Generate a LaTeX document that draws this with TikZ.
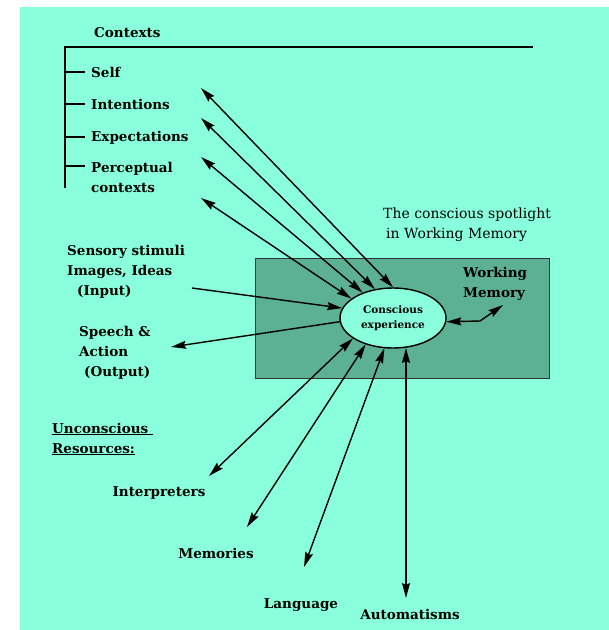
\documentclass[tikz,border=0pt]{standalone}
\usepackage{fontspec}
\setmainfont{DejaVu Serif}
\usetikzlibrary{arrows.meta,shapes.geometric}
\definecolor{bgc}{RGB}{138,255,219}
\definecolor{wmfill}{RGB}{92,176,148}
\begin{document}
\begin{tikzpicture}[x=1pt,y=-1pt,
  lbl/.style={inner sep=0pt,font=\bfseries\fontsize{13.5}{20}\selectfont,align=left},
  bline/.style={line width=2pt},
  tip/.style={Stealth[length=15pt,width=8pt,inset=2pt]},
  dbl/.style={line width=1.4pt,{Stealth[length=15pt,width=8pt,inset=2pt]}-{Stealth[length=15pt,width=8pt,inset=2pt]}},
  one/.style={line width=1.4pt,-{Stealth[length=15pt,width=8pt,inset=2pt]}}]
\useasboundingbox (0,0) rectangle (609,630);
\fill[white] (0,0) rectangle (609,630);
\fill[bgc] (20,7) rectangle (609,630);
% contexts bracket
\coordinate (bt) at (65,47);
\coordinate (br) at (533,47);
\coordinate (bb) at (65,188);
\draw[bline] (br) -- (bt) -- (bb);
\foreach \yy/\nm in {72/t1,104/t2,137/t3,166/t4}{
  \coordinate (\nm a) at (65,\yy);
  \coordinate (\nm b) at (85,\yy);
  \draw[bline] (\nm a) -- (\nm b);
}
\node[lbl,anchor=west] (contexts) at (94,33) {Contexts};
\node[lbl,anchor=west] (self) at (91,72) {Self};
\node[lbl,anchor=west] (intent) at (91,104) {Intentions};
\node[lbl,anchor=west] (expect) at (91,138) {Expectations};
\node[lbl,anchor=west] (percep) at (91,177) {Perceptual\\contexts};
% working memory box
\node[draw=black!80,line width=0.8pt,fill=wmfill,minimum width=294pt,minimum height=120pt,inner sep=0pt] (box) at (402,318) {};
\node[ellipse,draw,line width=1.4pt,fill=bgc,minimum width=106pt,minimum height=60pt,inner sep=0pt,align=center,font=\bfseries\fontsize{10.5}{15}\selectfont] (ce) at (393,318) {Conscious\\experience};
\node[lbl,anchor=west] (wm) at (463,284) {Working\\Memory};
\node[lbl,anchor=west,font=\fontsize{14}{20}\selectfont] (spot) at (383,225) {The conscious spotlight\\\hspace{3pt}in Working Memory};
\node[lbl,anchor=west] (sens) at (67,272) {Sensory stimuli\\Images, Ideas\\\hspace{10pt}(Input)};
\node[lbl,anchor=west] (speech) at (79,353) {Speech \&\\Action\\\hspace{5pt}(Output)};
\node[lbl,anchor=west] (uncon) at (52,439) {\underline{Unconscious\ }\\\underline{Resources:}};
\node[lbl] (interp) at (159,493) {Interpreters};
\node[lbl] (mem) at (216,553) {Memories};
\node[lbl] (lang) at (301,605) {Language};
\node[lbl] (autom) at (410,614) {Automatisms};
% free ends
\coordinate (c1) at (201,88);
\coordinate (c2) at (201,118);
\coordinate (c3) at (201,157);
\coordinate (c4) at (201,198);
\coordinate (inp) at (192,288);
\coordinate (outp) at (171,347);
\coordinate (u1) at (209,476);
\coordinate (u2) at (247,527);
\coordinate (u3) at (304,567);
\coordinate (u4) at (406,598);
\coordinate (u4t) at (406,348);
\coordinate (wmk) at (480,321);
\coordinate (wmh) at (503,305);
% arrows
\draw[dbl] (c1) -- (ce.90);
\draw[dbl] (c2) -- (ce.122);
\draw[dbl] (c3) -- (ce.140);
\draw[dbl] (c4) -- (ce.155);
\draw[one] (inp) -- (ce.169);
\draw[one] (ce.184) -- (outp);
\draw[dbl] (ce.207) -- (u1);
\draw[dbl] (ce.224) -- (u2);
\draw[dbl] (ce.254) -- (u3);
\draw[dbl] (u4t) -- (u4);
\draw[dbl] (ce.356) -- (wmk) -- (wmh);
\end{tikzpicture}
\end{document}
